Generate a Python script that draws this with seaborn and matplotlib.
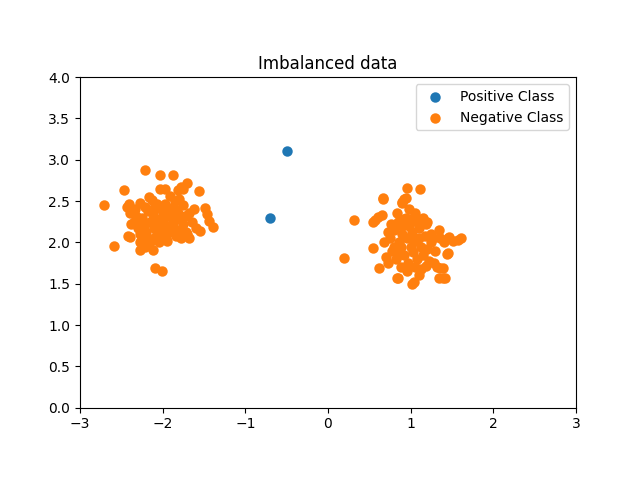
import matplotlib
matplotlib.use("Agg")
import matplotlib.pyplot as plt
import seaborn as sns
import pandas as pd

# Positive class (the two blue points)
pos_x = [-0.70, -0.49]
pos_y = [2.30, 3.11]

# Negative class, left blob
left_x = [-2.71, -2.59, -2.47, -2.21, -2.03, -1.88, -1.71, -1.75, -1.56, -1.49, -1.46, -1.44,
          -1.39, -1.55, -1.68, -1.70, -2.09, -2.01, -2.27, -2.21, -2.12, -2.42, -2.39, -1.97,
          -1.91, -1.82, -1.78, -2.03, -2.43, -2.39, -2.41, -2.27, -2.21, -2.13, -2.16, -2.07,
          -2.35, -2.30, -2.28, -2.25, -2.22, -2.20, -2.18, -2.15, -2.12, -2.10, -2.08, -2.05,
          -2.02, -2.00, -1.98, -1.96, -1.94, -1.92, -1.90, -1.88, -1.86, -1.84, -1.82, -1.80,
          -1.78, -1.76, -1.75, -1.73, -1.72, -1.85, -1.80, -1.95, -2.05, -2.15, -2.25, -2.32,
          -2.38, -2.33, -1.65, -1.62, -1.68, -1.60, -1.92, -2.00, -2.10, -1.85, -2.18, -2.24,
          -1.90, -2.02, -1.78, -2.28, -1.97, -1.88, -2.12, -2.06]
left_y = [2.45, 1.96, 2.63, 2.88, 2.82, 2.82, 2.72, 2.65, 2.62, 2.42, 2.34, 2.26,
          2.19, 2.14, 2.05, 2.10, 1.69, 1.66, 1.91, 1.95, 1.91, 2.08, 2.07, 2.64,
          2.56, 2.63, 2.67, 2.64, 2.43, 2.36, 2.46, 2.48, 2.43, 2.51, 2.55, 2.47,
          2.25, 2.18, 2.10, 2.30, 2.20, 2.12, 2.05, 2.25, 2.35, 2.18, 2.08, 2.28,
          2.40, 2.15, 2.22, 2.05, 2.32, 2.12, 2.42, 2.25, 2.18, 2.08, 2.35, 2.28,
          2.15, 2.45, 2.22, 2.32, 2.12, 2.50, 2.52, 2.02, 2.00, 2.00, 2.05, 2.32,
          2.22, 2.40, 2.25, 2.40, 2.35, 2.18, 2.38, 2.32, 2.42, 2.40, 2.38, 2.25,
          2.20, 2.10, 2.05, 2.00, 2.47, 2.32, 2.28, 2.20]

# Negative class, right blob
right_x = [0.19, 0.31, 0.54, 0.67, 0.96, 1.11, 0.89, 0.92, 1.02, 0.85, 1.34, 1.42,
           1.61, 1.51, 1.44, 1.39, 1.32, 0.62, 0.57, 0.61, 0.65, 1.34, 1.25, 0.66,
           0.90, 0.94, 0.55, 1.46, 1.57, 1.45, 0.84, 1.04, 1.36, 1.39,
           0.75, 0.78, 0.80, 0.82, 0.85, 0.86, 0.88, 0.90, 0.92, 0.94, 0.95, 0.97,
           0.98, 1.00, 1.02, 1.03, 1.05, 1.06, 1.08, 1.10, 1.12, 1.14, 1.15, 1.17,
           1.18, 1.20, 1.22, 1.24, 1.27, 1.30, 0.72, 0.70, 0.68, 0.76, 0.83, 0.88,
           0.95, 1.05, 1.12, 1.20, 1.15, 0.98, 0.92, 1.00, 1.08, 1.35, 1.28, 0.80,
           0.90, 1.02, 1.10, 0.85, 1.18, 0.72, 1.40, 1.45, 1.10]
right_y = [1.81, 2.27, 1.93, 2.53, 2.66, 2.65, 2.48, 2.52, 1.50, 1.57, 1.57, 1.57,
           2.05, 2.02, 1.86, 1.69, 1.70, 1.69, 2.27, 2.31, 2.33, 2.15, 2.10, 2.54,
           2.49, 2.54, 2.25, 2.07, 2.03, 1.87, 1.57, 1.52, 1.69, 1.57,
           2.05, 1.90, 2.15, 1.80, 2.25, 2.00, 1.95, 2.10, 1.85, 2.30, 2.05, 1.75,
           2.20, 1.95, 2.12, 1.88, 2.35, 2.02, 1.80, 2.18, 1.95, 2.28, 1.85, 2.08,
           2.22, 1.92, 1.78, 2.00, 2.05, 1.90, 1.75, 1.82, 2.00, 2.22, 2.35, 1.70,
           1.65, 1.70, 1.68, 2.25, 2.30, 2.40, 2.28, 2.28, 2.25, 2.05, 1.75, 1.95,
           2.20, 2.05, 2.05, 1.85, 1.72, 2.12, 2.00, 2.05, 1.60]

neg = pd.DataFrame({"x": left_x + right_x, "y": left_y + right_y})
pos = pd.DataFrame({"x": pos_x, "y": pos_y})

fig, ax = plt.subplots(figsize=(6.4, 4.8), dpi=100)
sns.scatterplot(data=pos, x="x", y="y", color="C0", s=36, edgecolor="face",
                linewidth=1.5, label="Positive Class", ax=ax)
sns.scatterplot(data=neg, x="x", y="y", color="C1", s=36, edgecolor="face",
                linewidth=1.5, label="Negative Class", ax=ax)

ax.set_xlim(-3, 3)
ax.set_ylim(0, 4)
ax.set_aspect("equal")
ax.set_xlabel("")
ax.set_ylabel("")
ax.set_title("Imbalanced data")
ax.legend(loc="upper right")

plt.savefig("out.png", dpi=100)
